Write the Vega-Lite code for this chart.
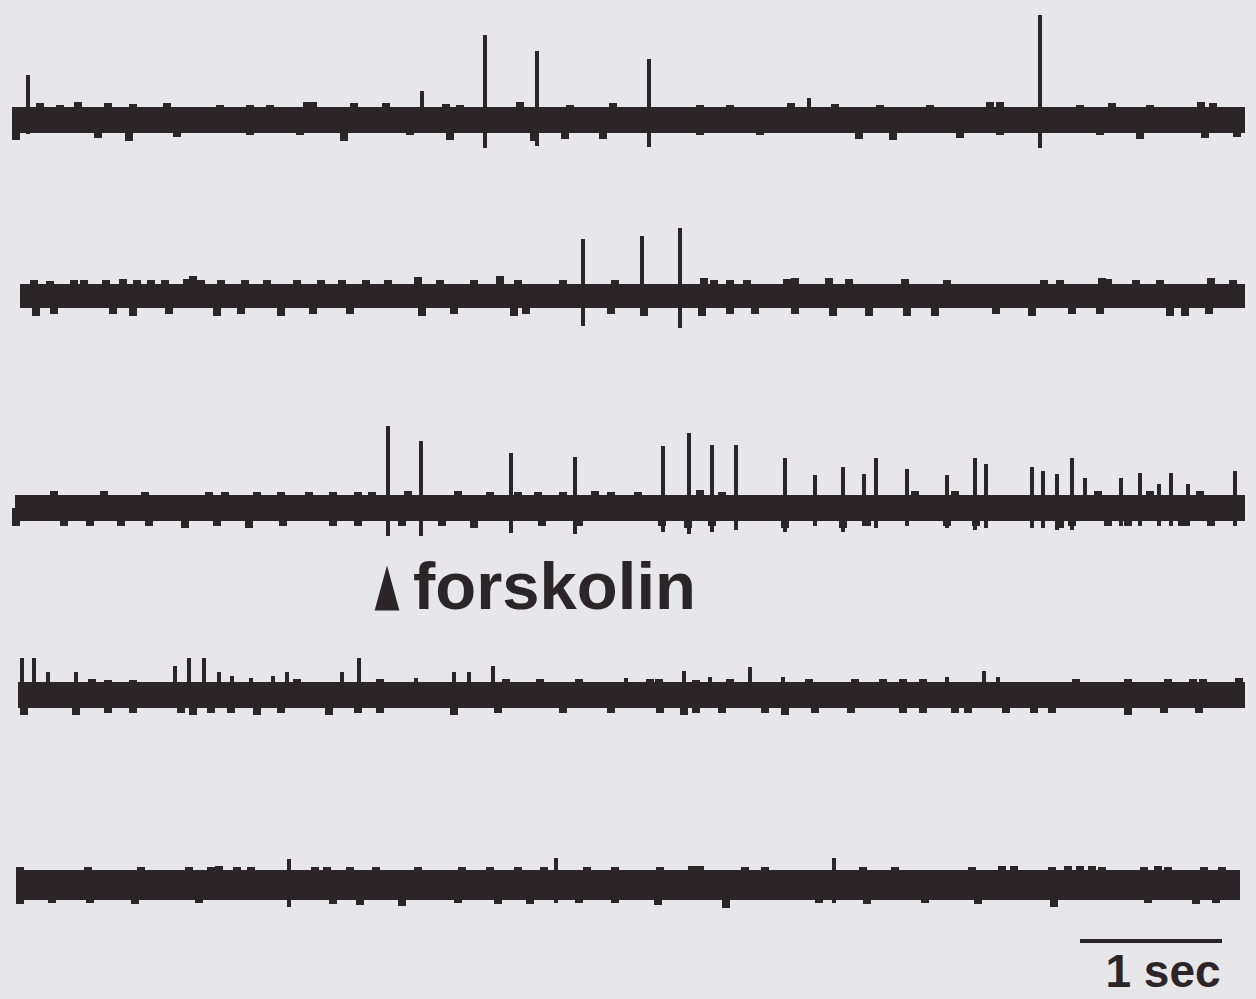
{
"$schema":"https://vega.github.io/schema/vega-lite/v6.json",
"background":"#e7e7e9",
"padding":0,
"spacing":0,
"config":{"view":{"stroke":null},"concat":{"spacing":0}},
"datasets":{
"band":[
{"tr":1,"x0":12,"x1":1245,"hi":13,"lo":-13},
{"tr":2,"x0":20,"x1":1245,"hi":12,"lo":-12},
{"tr":3,"x0":15,"x1":1245,"hi":13,"lo":-13},
{"tr":4,"x0":18,"x1":1245,"hi":13,"lo":-13},
{"tr":5,"x0":18,"x1":1240,"hi":15,"lo":-15}
],
"ev":[
{"tr":1,"k":"s","x":28,"hi":45,"lo":-14},{"tr":1,"k":"s","x":422,"hi":29,"lo":0},{"tr":1,"k":"s","x":485,"hi":85,"lo":-28},{"tr":1,"k":"s","x":537,"hi":69,"lo":-26},{"tr":1,"k":"s","x":649,"hi":61,"lo":-27},{"tr":1,"k":"s","x":809,"hi":22,"lo":0},{"tr":1,"k":"s","x":1040,"hi":105,"lo":-28},
{"tr":1,"k":"b","x":40,"hi":17,"lo":0},{"tr":1,"k":"b","x":60,"hi":15,"lo":0},{"tr":1,"k":"b","x":78,"hi":18,"lo":0},{"tr":1,"k":"b","x":108,"hi":17,"lo":0},{"tr":1,"k":"b","x":133,"hi":16,"lo":0},{"tr":1,"k":"b","x":167,"hi":17,"lo":0},{"tr":1,"k":"b","x":220,"hi":15,"lo":0},{"tr":1,"k":"b","x":250,"hi":15,"lo":0},{"tr":1,"k":"b","x":270,"hi":15,"lo":0},{"tr":1,"k":"b","x":307,"hi":18,"lo":0},{"tr":1,"k":"b","x":313,"hi":18,"lo":0},{"tr":1,"k":"b","x":354,"hi":17,"lo":0},{"tr":1,"k":"b","x":386,"hi":17,"lo":0},{"tr":1,"k":"b","x":446,"hi":16,"lo":0},{"tr":1,"k":"b","x":460,"hi":15,"lo":0},{"tr":1,"k":"b","x":520,"hi":18,"lo":0},{"tr":1,"k":"b","x":570,"hi":15,"lo":0},{"tr":1,"k":"b","x":613,"hi":17,"lo":0},{"tr":1,"k":"b","x":700,"hi":15,"lo":0},{"tr":1,"k":"b","x":730,"hi":15,"lo":0},{"tr":1,"k":"b","x":791,"hi":17,"lo":0},{"tr":1,"k":"b","x":835,"hi":16,"lo":0},{"tr":1,"k":"b","x":880,"hi":15,"lo":0},{"tr":1,"k":"b","x":930,"hi":15,"lo":0},{"tr":1,"k":"b","x":990,"hi":18,"lo":0},{"tr":1,"k":"b","x":1000,"hi":18,"lo":0},{"tr":1,"k":"b","x":1080,"hi":15,"lo":0},{"tr":1,"k":"b","x":1112,"hi":17,"lo":0},{"tr":1,"k":"b","x":1150,"hi":15,"lo":0},{"tr":1,"k":"b","x":1201,"hi":18,"lo":0},{"tr":1,"k":"b","x":1213,"hi":17,"lo":0},
{"tr":1,"k":"b","x":16,"hi":0,"lo":-20},{"tr":1,"k":"b","x":98,"hi":0,"lo":-18},{"tr":1,"k":"b","x":129,"hi":0,"lo":-21},{"tr":1,"k":"b","x":177,"hi":0,"lo":-17},{"tr":1,"k":"b","x":250,"hi":0,"lo":-15},{"tr":1,"k":"b","x":300,"hi":0,"lo":-15},{"tr":1,"k":"b","x":344,"hi":0,"lo":-21},{"tr":1,"k":"b","x":410,"hi":0,"lo":-15},{"tr":1,"k":"b","x":450,"hi":0,"lo":-20},{"tr":1,"k":"b","x":534,"hi":0,"lo":-21},{"tr":1,"k":"b","x":565,"hi":0,"lo":-19},{"tr":1,"k":"b","x":603,"hi":0,"lo":-19},{"tr":1,"k":"b","x":700,"hi":0,"lo":-15},{"tr":1,"k":"b","x":760,"hi":0,"lo":-15},{"tr":1,"k":"b","x":859,"hi":0,"lo":-19},{"tr":1,"k":"b","x":893,"hi":0,"lo":-20},{"tr":1,"k":"b","x":960,"hi":0,"lo":-18},{"tr":1,"k":"b","x":1000,"hi":0,"lo":-15},{"tr":1,"k":"b","x":1100,"hi":0,"lo":-15},{"tr":1,"k":"b","x":1140,"hi":0,"lo":-19},{"tr":1,"k":"b","x":1205,"hi":0,"lo":-18},{"tr":1,"k":"b","x":1237,"hi":0,"lo":-17},

{"tr":2,"k":"s","x":583,"hi":57,"lo":-30},{"tr":2,"k":"s","x":642,"hi":60,"lo":-18},{"tr":2,"k":"s","x":680,"hi":68,"lo":-32},
{"tr":2,"k":"b","x":34,"hi":16,"lo":0},{"tr":2,"k":"b","x":50,"hi":15,"lo":0},{"tr":2,"k":"b","x":74,"hi":16,"lo":0},{"tr":2,"k":"b","x":84,"hi":16,"lo":0},{"tr":2,"k":"b","x":106,"hi":16,"lo":0},{"tr":2,"k":"b","x":123,"hi":17,"lo":0},{"tr":2,"k":"b","x":137,"hi":16,"lo":0},{"tr":2,"k":"b","x":151,"hi":16,"lo":0},{"tr":2,"k":"b","x":165,"hi":16,"lo":0},{"tr":2,"k":"b","x":187,"hi":17,"lo":0},{"tr":2,"k":"b","x":193,"hi":20,"lo":0},{"tr":2,"k":"b","x":201,"hi":16,"lo":0},{"tr":2,"k":"b","x":221,"hi":16,"lo":0},{"tr":2,"k":"b","x":245,"hi":16,"lo":0},{"tr":2,"k":"b","x":267,"hi":16,"lo":0},{"tr":2,"k":"b","x":297,"hi":16,"lo":0},{"tr":2,"k":"b","x":321,"hi":16,"lo":0},{"tr":2,"k":"b","x":342,"hi":16,"lo":0},{"tr":2,"k":"b","x":366,"hi":16,"lo":0},{"tr":2,"k":"b","x":388,"hi":16,"lo":0},{"tr":2,"k":"b","x":418,"hi":19,"lo":0},{"tr":2,"k":"b","x":440,"hi":16,"lo":0},{"tr":2,"k":"b","x":474,"hi":16,"lo":0},{"tr":2,"k":"b","x":500,"hi":20,"lo":0},{"tr":2,"k":"b","x":518,"hi":16,"lo":0},{"tr":2,"k":"b","x":563,"hi":16,"lo":0},{"tr":2,"k":"b","x":615,"hi":16,"lo":0},{"tr":2,"k":"b","x":704,"hi":18,"lo":0},{"tr":2,"k":"b","x":714,"hi":16,"lo":0},{"tr":2,"k":"b","x":730,"hi":16,"lo":0},{"tr":2,"k":"b","x":747,"hi":16,"lo":0},{"tr":2,"k":"b","x":787,"hi":17,"lo":0},{"tr":2,"k":"b","x":795,"hi":18,"lo":0},{"tr":2,"k":"b","x":829,"hi":18,"lo":0},{"tr":2,"k":"b","x":849,"hi":17,"lo":0},{"tr":2,"k":"b","x":905,"hi":17,"lo":0},{"tr":2,"k":"b","x":947,"hi":16,"lo":0},{"tr":2,"k":"b","x":1044,"hi":16,"lo":0},{"tr":2,"k":"b","x":1060,"hi":16,"lo":0},{"tr":2,"k":"b","x":1102,"hi":18,"lo":0},{"tr":2,"k":"b","x":1108,"hi":17,"lo":0},{"tr":2,"k":"b","x":1136,"hi":16,"lo":0},{"tr":2,"k":"b","x":1160,"hi":16,"lo":0},{"tr":2,"k":"b","x":1211,"hi":18,"lo":0},{"tr":2,"k":"b","x":1233,"hi":16,"lo":0},
{"tr":2,"k":"b","x":36,"hi":0,"lo":-20},{"tr":2,"k":"b","x":54,"hi":0,"lo":-18},{"tr":2,"k":"b","x":113,"hi":0,"lo":-18},{"tr":2,"k":"b","x":133,"hi":0,"lo":-20},{"tr":2,"k":"b","x":169,"hi":0,"lo":-18},{"tr":2,"k":"b","x":217,"hi":0,"lo":-20},{"tr":2,"k":"b","x":241,"hi":0,"lo":-18},{"tr":2,"k":"b","x":281,"hi":0,"lo":-20},{"tr":2,"k":"b","x":313,"hi":0,"lo":-18},{"tr":2,"k":"b","x":350,"hi":0,"lo":-18},{"tr":2,"k":"b","x":422,"hi":0,"lo":-20},{"tr":2,"k":"b","x":454,"hi":0,"lo":-18},{"tr":2,"k":"b","x":514,"hi":0,"lo":-20},{"tr":2,"k":"b","x":526,"hi":0,"lo":-18},{"tr":2,"k":"b","x":611,"hi":0,"lo":-18},{"tr":2,"k":"b","x":644,"hi":0,"lo":-20},{"tr":2,"k":"b","x":702,"hi":0,"lo":-20},{"tr":2,"k":"b","x":730,"hi":0,"lo":-18},{"tr":2,"k":"b","x":755,"hi":0,"lo":-18},{"tr":2,"k":"b","x":795,"hi":0,"lo":-18},{"tr":2,"k":"b","x":833,"hi":0,"lo":-20},{"tr":2,"k":"b","x":869,"hi":0,"lo":-20},{"tr":2,"k":"b","x":907,"hi":0,"lo":-20},{"tr":2,"k":"b","x":935,"hi":0,"lo":-20},{"tr":2,"k":"b","x":996,"hi":0,"lo":-18},{"tr":2,"k":"b","x":1032,"hi":0,"lo":-20},{"tr":2,"k":"b","x":1072,"hi":0,"lo":-18},{"tr":2,"k":"b","x":1100,"hi":0,"lo":-18},{"tr":2,"k":"b","x":1170,"hi":0,"lo":-20},{"tr":2,"k":"b","x":1185,"hi":0,"lo":-20},{"tr":2,"k":"b","x":1209,"hi":0,"lo":-18},

{"tr":3,"k":"s","x":388,"hi":82,"lo":-28},{"tr":3,"k":"s","x":421,"hi":67,"lo":-28},{"tr":3,"k":"s","x":511,"hi":55,"lo":-25},{"tr":3,"k":"s","x":575,"hi":51,"lo":-26},{"tr":3,"k":"s","x":663,"hi":62,"lo":-24},{"tr":3,"k":"s","x":689,"hi":75,"lo":-26},{"tr":3,"k":"s","x":712,"hi":63,"lo":-24},{"tr":3,"k":"s","x":736,"hi":63,"lo":-22},{"tr":3,"k":"s","x":785,"hi":50,"lo":-24},{"tr":3,"k":"s","x":815,"hi":33,"lo":-18},{"tr":3,"k":"s","x":843,"hi":41,"lo":-24},{"tr":3,"k":"s","x":864,"hi":34,"lo":-18},{"tr":3,"k":"s","x":876,"hi":50,"lo":-20},{"tr":3,"k":"s","x":907,"hi":39,"lo":-18},{"tr":3,"k":"s","x":947,"hi":33,"lo":-20},{"tr":3,"k":"s","x":975,"hi":50,"lo":-22},{"tr":3,"k":"s","x":986,"hi":44,"lo":-20},{"tr":3,"k":"s","x":1032,"hi":41,"lo":-20},{"tr":3,"k":"s","x":1043,"hi":37,"lo":-20},{"tr":3,"k":"s","x":1057,"hi":34,"lo":-22},{"tr":3,"k":"s","x":1072,"hi":50,"lo":-22},{"tr":3,"k":"s","x":1085,"hi":30,"lo":0},{"tr":3,"k":"s","x":1121,"hi":30,"lo":-18},{"tr":3,"k":"s","x":1140,"hi":35,"lo":-18},{"tr":3,"k":"s","x":1159,"hi":24,"lo":-18},{"tr":3,"k":"s","x":1171,"hi":35,"lo":-18},{"tr":3,"k":"s","x":1188,"hi":24,"lo":-18},{"tr":3,"k":"s","x":1235,"hi":37,"lo":-18},
{"tr":3,"k":"b","x":54,"hi":17,"lo":0},{"tr":3,"k":"b","x":104,"hi":17,"lo":0},{"tr":3,"k":"b","x":145,"hi":16,"lo":0},{"tr":3,"k":"b","x":209,"hi":16,"lo":0},{"tr":3,"k":"b","x":225,"hi":16,"lo":0},{"tr":3,"k":"b","x":257,"hi":16,"lo":0},{"tr":3,"k":"b","x":281,"hi":16,"lo":0},{"tr":3,"k":"b","x":309,"hi":16,"lo":0},{"tr":3,"k":"b","x":333,"hi":16,"lo":0},{"tr":3,"k":"b","x":358,"hi":16,"lo":0},{"tr":3,"k":"b","x":372,"hi":16,"lo":0},{"tr":3,"k":"b","x":408,"hi":17,"lo":0},{"tr":3,"k":"b","x":458,"hi":17,"lo":0},{"tr":3,"k":"b","x":490,"hi":16,"lo":0},{"tr":3,"k":"b","x":518,"hi":16,"lo":0},{"tr":3,"k":"b","x":538,"hi":16,"lo":0},{"tr":3,"k":"b","x":563,"hi":16,"lo":0},{"tr":3,"k":"b","x":595,"hi":17,"lo":0},{"tr":3,"k":"b","x":611,"hi":16,"lo":0},{"tr":3,"k":"b","x":638,"hi":16,"lo":0},{"tr":3,"k":"b","x":700,"hi":18,"lo":0},{"tr":3,"k":"b","x":722,"hi":16,"lo":0},{"tr":3,"k":"b","x":915,"hi":17,"lo":0},{"tr":3,"k":"b","x":955,"hi":17,"lo":0},{"tr":3,"k":"b","x":1098,"hi":17,"lo":0},{"tr":3,"k":"b","x":1150,"hi":17,"lo":0},{"tr":3,"k":"b","x":1200,"hi":17,"lo":0},
{"tr":3,"k":"b","x":16,"hi":0,"lo":-18},{"tr":3,"k":"b","x":64,"hi":0,"lo":-18},{"tr":3,"k":"b","x":90,"hi":0,"lo":-18},{"tr":3,"k":"b","x":121,"hi":0,"lo":-18},{"tr":3,"k":"b","x":149,"hi":0,"lo":-18},{"tr":3,"k":"b","x":185,"hi":0,"lo":-20},{"tr":3,"k":"b","x":217,"hi":0,"lo":-18},{"tr":3,"k":"b","x":249,"hi":0,"lo":-20},{"tr":3,"k":"b","x":283,"hi":0,"lo":-18},{"tr":3,"k":"b","x":333,"hi":0,"lo":-18},{"tr":3,"k":"b","x":358,"hi":0,"lo":-18},{"tr":3,"k":"b","x":402,"hi":0,"lo":-18},{"tr":3,"k":"b","x":442,"hi":0,"lo":-18},{"tr":3,"k":"b","x":474,"hi":0,"lo":-20},{"tr":3,"k":"b","x":542,"hi":0,"lo":-18},{"tr":3,"k":"b","x":579,"hi":0,"lo":-18},{"tr":3,"k":"b","x":662,"hi":0,"lo":-18},{"tr":3,"k":"b","x":688,"hi":0,"lo":-20},{"tr":3,"k":"b","x":712,"hi":0,"lo":-18},{"tr":3,"k":"b","x":785,"hi":0,"lo":-20},{"tr":3,"k":"b","x":843,"hi":0,"lo":-20},{"tr":3,"k":"b","x":867,"hi":0,"lo":-18},{"tr":3,"k":"b","x":947,"hi":0,"lo":-18},{"tr":3,"k":"b","x":976,"hi":0,"lo":-18},{"tr":3,"k":"b","x":1060,"hi":0,"lo":-20},{"tr":3,"k":"b","x":1072,"hi":0,"lo":-18},{"tr":3,"k":"b","x":1108,"hi":0,"lo":-18},{"tr":3,"k":"b","x":1128,"hi":0,"lo":-18},{"tr":3,"k":"b","x":1182,"hi":0,"lo":-18},{"tr":3,"k":"b","x":1211,"hi":0,"lo":-18},

{"tr":4,"k":"s","x":22,"hi":37,"lo":0},{"tr":4,"k":"s","x":34,"hi":37,"lo":0},{"tr":4,"k":"s","x":48,"hi":23,"lo":0},{"tr":4,"k":"s","x":76,"hi":23,"lo":0},{"tr":4,"k":"s","x":175,"hi":29,"lo":0},{"tr":4,"k":"s","x":189,"hi":37,"lo":0},{"tr":4,"k":"s","x":204,"hi":37,"lo":0},{"tr":4,"k":"s","x":219,"hi":23,"lo":0},{"tr":4,"k":"s","x":232,"hi":19,"lo":0},{"tr":4,"k":"s","x":251,"hi":17,"lo":0},{"tr":4,"k":"s","x":273,"hi":19,"lo":0},{"tr":4,"k":"s","x":287,"hi":23,"lo":0},{"tr":4,"k":"s","x":342,"hi":23,"lo":0},{"tr":4,"k":"s","x":359,"hi":37,"lo":0},{"tr":4,"k":"s","x":416,"hi":17,"lo":0},{"tr":4,"k":"s","x":454,"hi":23,"lo":0},{"tr":4,"k":"s","x":469,"hi":23,"lo":0},{"tr":4,"k":"s","x":493,"hi":29,"lo":0},{"tr":4,"k":"s","x":626,"hi":17,"lo":0},{"tr":4,"k":"s","x":684,"hi":24,"lo":0},{"tr":4,"k":"s","x":710,"hi":18,"lo":0},{"tr":4,"k":"s","x":750,"hi":28,"lo":0},{"tr":4,"k":"s","x":783,"hi":18,"lo":0},{"tr":4,"k":"s","x":947,"hi":18,"lo":0},{"tr":4,"k":"s","x":984,"hi":24,"lo":0},{"tr":4,"k":"s","x":998,"hi":18,"lo":0},
{"tr":4,"k":"b","x":92,"hi":16,"lo":0},{"tr":4,"k":"b","x":108,"hi":15,"lo":0},{"tr":4,"k":"b","x":133,"hi":15,"lo":0},{"tr":4,"k":"b","x":297,"hi":16,"lo":0},{"tr":4,"k":"b","x":380,"hi":16,"lo":0},{"tr":4,"k":"b","x":506,"hi":16,"lo":0},{"tr":4,"k":"b","x":540,"hi":16,"lo":0},{"tr":4,"k":"b","x":579,"hi":16,"lo":0},{"tr":4,"k":"b","x":650,"hi":16,"lo":0},{"tr":4,"k":"b","x":659,"hi":16,"lo":0},{"tr":4,"k":"b","x":696,"hi":15,"lo":0},{"tr":4,"k":"b","x":730,"hi":16,"lo":0},{"tr":4,"k":"b","x":809,"hi":16,"lo":0},{"tr":4,"k":"b","x":855,"hi":16,"lo":0},{"tr":4,"k":"b","x":883,"hi":16,"lo":0},{"tr":4,"k":"b","x":903,"hi":16,"lo":0},{"tr":4,"k":"b","x":923,"hi":16,"lo":0},{"tr":4,"k":"b","x":1076,"hi":16,"lo":0},{"tr":4,"k":"b","x":1128,"hi":16,"lo":0},{"tr":4,"k":"b","x":1168,"hi":16,"lo":0},{"tr":4,"k":"b","x":1193,"hi":16,"lo":0},{"tr":4,"k":"b","x":1203,"hi":16,"lo":0},{"tr":4,"k":"b","x":1239,"hi":17,"lo":0},
{"tr":4,"k":"b","x":24,"hi":0,"lo":-20},{"tr":4,"k":"b","x":76,"hi":0,"lo":-20},{"tr":4,"k":"b","x":108,"hi":0,"lo":-18},{"tr":4,"k":"b","x":133,"hi":0,"lo":-18},{"tr":4,"k":"b","x":181,"hi":0,"lo":-18},{"tr":4,"k":"b","x":193,"hi":0,"lo":-20},{"tr":4,"k":"b","x":211,"hi":0,"lo":-18},{"tr":4,"k":"b","x":231,"hi":0,"lo":-18},{"tr":4,"k":"b","x":257,"hi":0,"lo":-20},{"tr":4,"k":"b","x":281,"hi":0,"lo":-18},{"tr":4,"k":"b","x":329,"hi":0,"lo":-20},{"tr":4,"k":"b","x":358,"hi":0,"lo":-18},{"tr":4,"k":"b","x":380,"hi":0,"lo":-18},{"tr":4,"k":"b","x":454,"hi":0,"lo":-20},{"tr":4,"k":"b","x":498,"hi":0,"lo":-18},{"tr":4,"k":"b","x":563,"hi":0,"lo":-18},{"tr":4,"k":"b","x":611,"hi":0,"lo":-18},{"tr":4,"k":"b","x":660,"hi":0,"lo":-18},{"tr":4,"k":"b","x":684,"hi":0,"lo":-20},{"tr":4,"k":"b","x":696,"hi":0,"lo":-18},{"tr":4,"k":"b","x":722,"hi":0,"lo":-18},{"tr":4,"k":"b","x":765,"hi":0,"lo":-18},{"tr":4,"k":"b","x":785,"hi":0,"lo":-20},{"tr":4,"k":"b","x":815,"hi":0,"lo":-18},{"tr":4,"k":"b","x":851,"hi":0,"lo":-18},{"tr":4,"k":"b","x":903,"hi":0,"lo":-18},{"tr":4,"k":"b","x":923,"hi":0,"lo":-18},{"tr":4,"k":"b","x":955,"hi":0,"lo":-18},{"tr":4,"k":"b","x":968,"hi":0,"lo":-18},{"tr":4,"k":"b","x":1006,"hi":0,"lo":-18},{"tr":4,"k":"b","x":1034,"hi":0,"lo":-18},{"tr":4,"k":"b","x":1052,"hi":0,"lo":-18},{"tr":4,"k":"b","x":1128,"hi":0,"lo":-20},{"tr":4,"k":"b","x":1164,"hi":0,"lo":-18},{"tr":4,"k":"b","x":1199,"hi":0,"lo":-18},

{"tr":5,"k":"s","x":289,"hi":26,"lo":-22},{"tr":5,"k":"s","x":556,"hi":27,"lo":-18},{"tr":5,"k":"s","x":834,"hi":27,"lo":-18},
{"tr":5,"k":"b","x":20,"hi":18,"lo":0},{"tr":5,"k":"b","x":88,"hi":18,"lo":0},{"tr":5,"k":"b","x":141,"hi":18,"lo":0},{"tr":5,"k":"b","x":189,"hi":18,"lo":0},{"tr":5,"k":"b","x":211,"hi":18,"lo":0},{"tr":5,"k":"b","x":219,"hi":19,"lo":0},{"tr":5,"k":"b","x":237,"hi":18,"lo":0},{"tr":5,"k":"b","x":251,"hi":18,"lo":0},{"tr":5,"k":"b","x":315,"hi":18,"lo":0},{"tr":5,"k":"b","x":327,"hi":18,"lo":0},{"tr":5,"k":"b","x":350,"hi":18,"lo":0},{"tr":5,"k":"b","x":376,"hi":18,"lo":0},{"tr":5,"k":"b","x":418,"hi":18,"lo":0},{"tr":5,"k":"b","x":462,"hi":18,"lo":0},{"tr":5,"k":"b","x":490,"hi":18,"lo":0},{"tr":5,"k":"b","x":518,"hi":18,"lo":0},{"tr":5,"k":"b","x":544,"hi":18,"lo":0},{"tr":5,"k":"b","x":587,"hi":18,"lo":0},{"tr":5,"k":"b","x":615,"hi":18,"lo":0},{"tr":5,"k":"b","x":660,"hi":18,"lo":0},{"tr":5,"k":"b","x":692,"hi":19,"lo":0},{"tr":5,"k":"b","x":700,"hi":19,"lo":0},{"tr":5,"k":"b","x":745,"hi":18,"lo":0},{"tr":5,"k":"b","x":765,"hi":18,"lo":0},{"tr":5,"k":"b","x":863,"hi":18,"lo":0},{"tr":5,"k":"b","x":895,"hi":18,"lo":0},{"tr":5,"k":"b","x":972,"hi":18,"lo":0},{"tr":5,"k":"b","x":1002,"hi":19,"lo":0},{"tr":5,"k":"b","x":1014,"hi":19,"lo":0},{"tr":5,"k":"b","x":1052,"hi":18,"lo":0},{"tr":5,"k":"b","x":1068,"hi":19,"lo":0},{"tr":5,"k":"b","x":1080,"hi":19,"lo":0},{"tr":5,"k":"b","x":1092,"hi":19,"lo":0},{"tr":5,"k":"b","x":1102,"hi":18,"lo":0},{"tr":5,"k":"b","x":1144,"hi":18,"lo":0},{"tr":5,"k":"b","x":1158,"hi":19,"lo":0},{"tr":5,"k":"b","x":1168,"hi":18,"lo":0},{"tr":5,"k":"b","x":1204,"hi":18,"lo":0},{"tr":5,"k":"b","x":1222,"hi":18,"lo":0},
{"tr":5,"k":"b","x":20,"hi":0,"lo":-19},{"tr":5,"k":"b","x":52,"hi":0,"lo":-18},{"tr":5,"k":"b","x":90,"hi":0,"lo":-18},{"tr":5,"k":"b","x":135,"hi":0,"lo":-19},{"tr":5,"k":"b","x":199,"hi":0,"lo":-18},{"tr":5,"k":"b","x":333,"hi":0,"lo":-19},{"tr":5,"k":"b","x":360,"hi":0,"lo":-20},{"tr":5,"k":"b","x":402,"hi":0,"lo":-21},{"tr":5,"k":"b","x":458,"hi":0,"lo":-18},{"tr":5,"k":"b","x":498,"hi":0,"lo":-19},{"tr":5,"k":"b","x":530,"hi":0,"lo":-19},{"tr":5,"k":"b","x":579,"hi":0,"lo":-18},{"tr":5,"k":"b","x":615,"hi":0,"lo":-18},{"tr":5,"k":"b","x":658,"hi":0,"lo":-20},{"tr":5,"k":"b","x":726,"hi":0,"lo":-23},{"tr":5,"k":"b","x":819,"hi":0,"lo":-18},{"tr":5,"k":"b","x":867,"hi":0,"lo":-19},{"tr":5,"k":"b","x":925,"hi":0,"lo":-18},{"tr":5,"k":"b","x":978,"hi":0,"lo":-19},{"tr":5,"k":"b","x":1054,"hi":0,"lo":-22},{"tr":5,"k":"b","x":1148,"hi":0,"lo":-18},{"tr":5,"k":"b","x":1196,"hi":0,"lo":-19},{"tr":5,"k":"b","x":1216,"hi":0,"lo":-18}
]
},
"vconcat":[
{"width":1256,"height":208,"layer":[
{"data":{"name":"band"},"transform":[{"filter":"datum.tr==1"}],"mark":{"type":"rect","color":"#2b2528"},"encoding":{"x":{"field":"x0","type":"quantitative","scale":{"domain":[0,1256],"nice":false},"axis":null},"x2":{"field":"x1"},"y":{"field":"hi","type":"quantitative","scale":{"domain":[-88,120],"nice":false},"axis":null},"y2":{"field":"lo"}}},
{"data":{"name":"ev"},"transform":[{"filter":"datum.tr==1 && datum.k=='b'"}],"mark":{"type":"rule","color":"#2b2528","strokeWidth":8},"encoding":{"x":{"field":"x","type":"quantitative","scale":{"domain":[0,1256],"nice":false},"axis":null},"y":{"field":"hi","type":"quantitative","scale":{"domain":[-88,120],"nice":false},"axis":null},"y2":{"field":"lo"}}},
{"data":{"name":"ev"},"transform":[{"filter":"datum.tr==1 && datum.k=='s'"}],"mark":{"type":"rule","color":"#2b2528","strokeWidth":4},"encoding":{"x":{"field":"x","type":"quantitative","scale":{"domain":[0,1256],"nice":false},"axis":null},"y":{"field":"hi","type":"quantitative","scale":{"domain":[-88,120],"nice":false},"axis":null},"y2":{"field":"lo"}}}
]},
{"width":1256,"height":192,"layer":[
{"data":{"name":"band"},"transform":[{"filter":"datum.tr==2"}],"mark":{"type":"rect","color":"#2b2528"},"encoding":{"x":{"field":"x0","type":"quantitative","scale":{"domain":[0,1256],"nice":false},"axis":null},"x2":{"field":"x1"},"y":{"field":"hi","type":"quantitative","scale":{"domain":[-104,88],"nice":false},"axis":null},"y2":{"field":"lo"}}},
{"data":{"name":"ev"},"transform":[{"filter":"datum.tr==2 && datum.k=='b'"}],"mark":{"type":"rule","color":"#2b2528","strokeWidth":8},"encoding":{"x":{"field":"x","type":"quantitative","scale":{"domain":[0,1256],"nice":false},"axis":null},"y":{"field":"hi","type":"quantitative","scale":{"domain":[-104,88],"nice":false},"axis":null},"y2":{"field":"lo"}}},
{"data":{"name":"ev"},"transform":[{"filter":"datum.tr==2 && datum.k=='s'"}],"mark":{"type":"rule","color":"#2b2528","strokeWidth":4},"encoding":{"x":{"field":"x","type":"quantitative","scale":{"domain":[0,1256],"nice":false},"axis":null},"y":{"field":"hi","type":"quantitative","scale":{"domain":[-104,88],"nice":false},"axis":null},"y2":{"field":"lo"}}}
]},
{"width":1256,"height":220,"layer":[
{"data":{"name":"band"},"transform":[{"filter":"datum.tr==3"}],"mark":{"type":"rect","color":"#2b2528"},"encoding":{"x":{"field":"x0","type":"quantitative","scale":{"domain":[0,1256],"nice":false},"axis":null},"x2":{"field":"x1"},"y":{"field":"hi","type":"quantitative","scale":{"domain":[-112,108],"nice":false},"axis":null},"y2":{"field":"lo"}}},
{"data":{"name":"ev"},"transform":[{"filter":"datum.tr==3 && datum.k=='b'"}],"mark":{"type":"rule","color":"#2b2528","strokeWidth":8},"encoding":{"x":{"field":"x","type":"quantitative","scale":{"domain":[0,1256],"nice":false},"axis":null},"y":{"field":"hi","type":"quantitative","scale":{"domain":[-112,108],"nice":false},"axis":null},"y2":{"field":"lo"}}},
{"data":{"name":"ev"},"transform":[{"filter":"datum.tr==3 && datum.k=='s'"}],"mark":{"type":"rule","color":"#2b2528","strokeWidth":4},"encoding":{"x":{"field":"x","type":"quantitative","scale":{"domain":[0,1256],"nice":false},"axis":null},"y":{"field":"hi","type":"quantitative","scale":{"domain":[-112,108],"nice":false},"axis":null},"y2":{"field":"lo"}}},
{"data":{"values":[{"x":387,"y":-80}]},"mark":{"type":"point","shape":"M0,-1L0.55,1L-0.55,1Z","filled":true,"size":2025,"color":"#2b2528","opacity":1},"encoding":{"x":{"field":"x","type":"quantitative","scale":{"domain":[0,1256],"nice":false},"axis":null},"y":{"field":"y","type":"quantitative","scale":{"domain":[-112,108],"nice":false},"axis":null}}},
{"data":{"values":[{"x":413,"y":-101,"label":"forskolin"}]},"mark":{"type":"text","align":"left","baseline":"alphabetic","font":"Liberation Sans","fontWeight":"bold","fontSize":67,"color":"#2b2528"},"encoding":{"x":{"field":"x","type":"quantitative","scale":{"domain":[0,1256],"nice":false},"axis":null},"y":{"field":"y","type":"quantitative","scale":{"domain":[-112,108],"nice":false},"axis":null},"text":{"field":"label"}}}
]},
{"width":1256,"height":170,"layer":[
{"data":{"name":"band"},"transform":[{"filter":"datum.tr==4"}],"mark":{"type":"rect","color":"#2b2528"},"encoding":{"x":{"field":"x0","type":"quantitative","scale":{"domain":[0,1256],"nice":false},"axis":null},"x2":{"field":"x1"},"y":{"field":"hi","type":"quantitative","scale":{"domain":[-97,73],"nice":false},"axis":null},"y2":{"field":"lo"}}},
{"data":{"name":"ev"},"transform":[{"filter":"datum.tr==4 && datum.k=='b'"}],"mark":{"type":"rule","color":"#2b2528","strokeWidth":8},"encoding":{"x":{"field":"x","type":"quantitative","scale":{"domain":[0,1256],"nice":false},"axis":null},"y":{"field":"hi","type":"quantitative","scale":{"domain":[-97,73],"nice":false},"axis":null},"y2":{"field":"lo"}}},
{"data":{"name":"ev"},"transform":[{"filter":"datum.tr==4 && datum.k=='s'"}],"mark":{"type":"rule","color":"#2b2528","strokeWidth":4},"encoding":{"x":{"field":"x","type":"quantitative","scale":{"domain":[0,1256],"nice":false},"axis":null},"y":{"field":"hi","type":"quantitative","scale":{"domain":[-97,73],"nice":false},"axis":null},"y2":{"field":"lo"}}}
]},
{"width":1256,"height":209,"layer":[
{"data":{"name":"band"},"transform":[{"filter":"datum.tr==5"}],"mark":{"type":"rect","color":"#2b2528"},"encoding":{"x":{"field":"x0","type":"quantitative","scale":{"domain":[0,1256],"nice":false},"axis":null},"x2":{"field":"x1"},"y":{"field":"hi","type":"quantitative","scale":{"domain":[-116,93],"nice":false},"axis":null},"y2":{"field":"lo"}}},
{"data":{"name":"ev"},"transform":[{"filter":"datum.tr==5 && datum.k=='b'"}],"mark":{"type":"rule","color":"#2b2528","strokeWidth":8},"encoding":{"x":{"field":"x","type":"quantitative","scale":{"domain":[0,1256],"nice":false},"axis":null},"y":{"field":"hi","type":"quantitative","scale":{"domain":[-116,93],"nice":false},"axis":null},"y2":{"field":"lo"}}},
{"data":{"name":"ev"},"transform":[{"filter":"datum.tr==5 && datum.k=='s'"}],"mark":{"type":"rule","color":"#2b2528","strokeWidth":4},"encoding":{"x":{"field":"x","type":"quantitative","scale":{"domain":[0,1256],"nice":false},"axis":null},"y":{"field":"hi","type":"quantitative","scale":{"domain":[-116,93],"nice":false},"axis":null},"y2":{"field":"lo"}}},
{"data":{"values":[{"x0":1080,"x1":1222,"y":-56}]},"mark":{"type":"rule","color":"#2b2528","strokeWidth":4},"encoding":{"x":{"field":"x0","type":"quantitative","scale":{"domain":[0,1256],"nice":false},"axis":null},"x2":{"field":"x1"},"y":{"field":"y","type":"quantitative","scale":{"domain":[-116,93],"nice":false},"axis":null}}},
{"data":{"values":[{"x":1163,"y":-102,"label":"1 sec"}]},"mark":{"type":"text","align":"center","baseline":"alphabetic","font":"Liberation Sans","fontWeight":"bold","fontSize":46,"color":"#2b2528"},"encoding":{"x":{"field":"x","type":"quantitative","scale":{"domain":[0,1256],"nice":false},"axis":null},"y":{"field":"y","type":"quantitative","scale":{"domain":[-116,93],"nice":false},"axis":null},"text":{"field":"label"}}}
]}
]
}
